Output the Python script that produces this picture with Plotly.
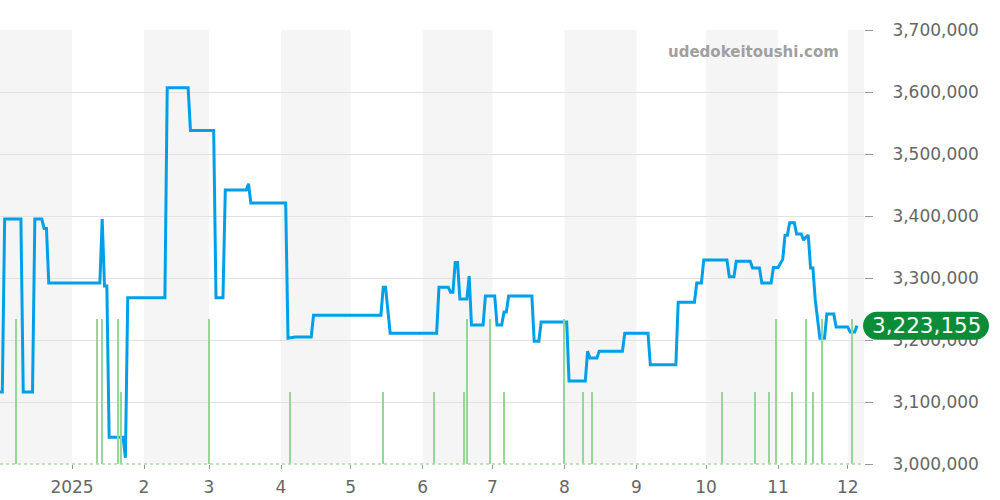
import plotly.graph_objects as go
import pandas as pd

# ---- price series (date, JPY) ----
price_dates = [
    "2024-12-01", "2024-12-02", "2024-12-03", "2024-12-10", "2024-12-11", "2024-12-15",
    "2024-12-16", "2024-12-19", "2024-12-20", "2024-12-21", "2024-12-22", "2025-01-13",
    "2025-01-14", "2025-01-15", "2025-01-16", "2025-01-17", "2025-01-23", "2025-01-24",
    "2025-01-25", "2025-02-10", "2025-02-11", "2025-02-20", "2025-02-21", "2025-03-03",
    "2025-03-04", "2025-03-07", "2025-03-08", "2025-03-17", "2025-03-18", "2025-03-19",
    "2025-04-03", "2025-04-04", "2025-04-07", "2025-04-14", "2025-04-15", "2025-05-14",
    "2025-05-15", "2025-05-16", "2025-05-18", "2025-06-07", "2025-06-08", "2025-06-12",
    "2025-06-13", "2025-06-14", "2025-06-15", "2025-06-16", "2025-06-17", "2025-06-20",
    "2025-06-21", "2025-06-22", "2025-06-27", "2025-06-28", "2025-07-02", "2025-07-03",
    "2025-07-05", "2025-07-06", "2025-07-07", "2025-07-08", "2025-07-18", "2025-07-19",
    "2025-07-21", "2025-07-22", "2025-08-02", "2025-08-03", "2025-08-10", "2025-08-11",
    "2025-08-12", "2025-08-15", "2025-08-16", "2025-08-26", "2025-08-27", "2025-09-06",
    "2025-09-07", "2025-09-18", "2025-09-19", "2025-09-26", "2025-09-27", "2025-09-29",
    "2025-09-30", "2025-10-10", "2025-10-11", "2025-10-13", "2025-10-14", "2025-10-20",
    "2025-10-21", "2025-10-24", "2025-10-25", "2025-10-29", "2025-10-30", "2025-11-01",
    "2025-11-03", "2025-11-04", "2025-11-05", "2025-11-06", "2025-11-08", "2025-11-09",
    "2025-11-11", "2025-11-12", "2025-11-13", "2025-11-14", "2025-11-15", "2025-11-16",
    "2025-11-17", "2025-11-19", "2025-11-21", "2025-11-22", "2025-11-25", "2025-11-26",
    "2025-12-01", "2025-12-02", "2025-12-04", "2025-12-05",
]
price_values = [
    3116000, 3116000, 3395000, 3395000, 3116000, 3116000,
    3395000, 3395000, 3380000, 3380000, 3292000, 3292000,
    3395000, 3287000, 3287000, 3043000, 3043000, 3010000,
    3268000, 3268000, 3607000, 3607000, 3538000, 3538000,
    3268000, 3268000, 3442000, 3442000, 3452000, 3421000,
    3421000, 3203000, 3205000, 3205000, 3240000, 3240000,
    3285000, 3285000, 3211000, 3211000, 3285000, 3285000,
    3277000, 3277000, 3325000, 3325000, 3266000, 3266000,
    3303000, 3224000, 3224000, 3271000, 3271000, 3224000,
    3224000, 3245000, 3245000, 3271000, 3271000, 3198000,
    3198000, 3229000, 3229000, 3134000, 3134000, 3182000,
    3171000, 3171000, 3182000, 3182000, 3211000, 3211000,
    3160000, 3160000, 3261000, 3261000, 3292000, 3292000,
    3329000, 3329000, 3302000, 3302000, 3327000, 3327000,
    3316000, 3316000, 3292000, 3292000, 3317000, 3317000,
    3330000, 3369000, 3369000, 3389000, 3389000, 3371000,
    3371000, 3361000, 3366000, 3369000, 3316000, 3316000,
    3265000, 3203000, 3203000, 3242000, 3242000, 3221000,
    3221000, 3213000, 3213000, 3223155,
]

# ---- trade volume markers ----
volume_dates = [
    "2024-12-08", "2025-01-12", "2025-01-14", "2025-01-21", "2025-01-22", "2025-03-01",
    "2025-04-05", "2025-05-15", "2025-06-06", "2025-06-19", "2025-06-20", "2025-06-30",
    "2025-07-06", "2025-08-01", "2025-08-09", "2025-08-13", "2025-10-08", "2025-10-22",
    "2025-10-28", "2025-10-31", "2025-11-07", "2025-11-13", "2025-11-16", "2025-11-20",
    "2025-12-03",
]
volume_values = [
    2, 2, 2, 2, 1, 2,
    1, 1, 1, 1, 2, 2,
    1, 2, 1, 1, 1, 1,
    1, 2, 1, 2, 1, 2,
    2,
]

# ---- axis ticks ----
tick_dates = ["2025-01-01", "2025-02-01", "2025-03-01", "2025-04-01", "2025-05-01", "2025-06-01",
              "2025-07-01", "2025-08-01", "2025-09-01", "2025-10-01", "2025-11-01", "2025-12-01"]
tick_labels = ["2025", "2", "3", "4", "5", "6", "7", "8", "9", "10", "11", "12"]
shaded_months = ["2024-12-01", "2025-02-01", "2025-04-01", "2025-06-01", "2025-08-01",
                 "2025-10-01", "2025-12-01"]
y_ticks = [3000000, 3100000, 3200000, 3300000, 3400000, 3500000, 3600000, 3700000]
latest_label = "3,223,155"
watermark = "udedokeitoushi.com"

x_start = "2024-12-01"
x_end = "2025-12-08"

FONT = "DejaVu Sans"
BLUE = "#00a0e9"
GREEN_BAR = "#95d895"
PILL_GREEN = "#0b8c38"

fig = go.Figure()

fig.add_trace(go.Bar(
    x=volume_dates, y=volume_values, yaxis="y2",
    marker=dict(color=GREEN_BAR, line=dict(width=0)),
    width=0.6 * 86400000, hoverinfo="skip", showlegend=False,
))

fig.add_trace(go.Scatter(
    x=price_dates, y=price_values, mode="lines",
    line=dict(color=BLUE, width=3, shape="linear"),
    showlegend=False,
))

shapes = []
for m in shaded_months:
    s = pd.Timestamp(m)
    e = s + pd.offsets.MonthBegin(1)
    shapes.append(dict(type="rect", xref="x", yref="paper", x0=s, x1=e, y0=0, y1=1,
                       fillcolor="#f5f5f5", line=dict(width=0), layer="below"))
# dotted baseline
shapes.append(dict(type="line", xref="paper", yref="paper", x0=0, x1=1, y0=0, y1=0,
                   line=dict(color="#a8dca8", width=1.5, dash="dot"), layer="above"))


def pill_path(x0, x1, r):
    k = 0.5523 * r
    a, b = x0 + r, x1 - r
    return (f"M {a},{-r} L {b},{-r} "
            f"C {b + k},{-r} {x1},{-k} {x1},0 "
            f"C {x1},{k} {b + k},{r} {b},{r} "
            f"L {a},{r} "
            f"C {a - k},{r} {x0},{k} {x0},0 "
            f"C {x0},{-k} {a - k},{-r} {a},{-r} Z")


shapes.append(dict(type="path", xref="paper", yref="y", xsizemode="pixel", ysizemode="pixel",
                   xanchor=1, yanchor=price_values[-1],
                   path=pill_path(-1, 125, 14),
                   fillcolor=PILL_GREEN, line=dict(width=0), layer="above"))

fig.update_layout(
    width=1000, height=500,
    margin=dict(l=0, r=136, t=30, b=36, pad=0),
    paper_bgcolor="white", plot_bgcolor="white",
    font=dict(family=FONT, color="#666666", size=17),
    shapes=shapes,
    bargap=0,
    xaxis=dict(
        type="date", range=[x_start, x_end],
        tickvals=tick_dates, ticktext=tick_labels,
        showgrid=False, zeroline=False, showline=False,
        ticks="outside", ticklen=4, tickcolor="#999999",
        tickfont=dict(size=17, color="#666666"),
        ticklabelstandoff=4,
    ),
    yaxis=dict(
        side="right", range=[3000000, 3700000],
        tickvals=y_ticks, tickformat=",d",
        showgrid=True, gridcolor="#e2e2e2", gridwidth=1,
        zeroline=False, showline=False,
        ticks="outside", ticklen=8, tickcolor="#999999",
        tickfont=dict(size=17, color="#666666"),
        ticklabelstandoff=16,
    ),
    yaxis2=dict(
        overlaying="y", range=[0, 6], visible=False, showgrid=False,
    ),
    annotations=[
        dict(xref="paper", yref="y", x=1, y=price_values[-1], xshift=62,
             text=latest_label, showarrow=False,
             font=dict(family=FONT, size=21.5, color="white"),
             xanchor="center", yanchor="middle"),
        dict(xref="paper", yref="paper", x=(841) / 864, y=(464 - 52) / 434,
             text=f"<b>{watermark}</b>", showarrow=False,
             font=dict(family=FONT, size=15, color="#a0a0a0"),
             xanchor="right", yanchor="middle"),
    ],
)

fig.write_html("out.html", config={"displayModeBar": False},
               post_script="document.body.style.margin='0';")
